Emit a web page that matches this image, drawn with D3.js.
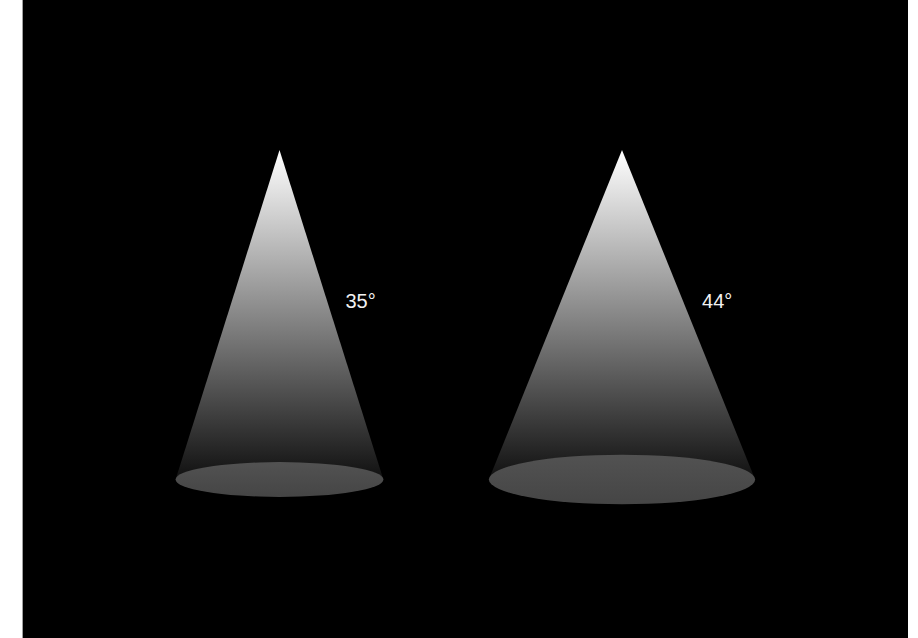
<!DOCTYPE html>
<html>
<head>
<meta charset="utf-8">
<script src="https://cdn.jsdelivr.net/npm/d3@7"></script>
<style>
  html, body { margin: 0; padding: 0; background: #ffffff; }
  svg { display: block; }
</style>
</head>
<body>
<svg id="chart" width="918" height="638"></svg>
<script>
// ---- data ----
const categories = ["cone35", "cone44"];
const beamAngles = [35, 44];          // full beam angle in degrees
const angleLabels = ["35°", "44°"];

// ---- layout ----
const W = 918, H = 638;
const svg = d3.select("#chart");

svg.append("rect")
  .attr("x", 22).attr("y", 0)
  .attr("width", 886).attr("height", H)
  .attr("fill", "#000000");
svg.append("line")
  .attr("x1", 22.5).attr("x2", 22.5).attr("y1", 0).attr("y2", H)
  .attr("stroke", "#a0a0a0").attr("stroke-width", 1);

// x position of each cone
const x = d3.scalePoint().domain(categories).range([279.5, 622]);
// vertical: 0 = base plane, 1 = apex
const y = d3.scaleLinear().domain([0, 1]).range([479.5, 150]);
const coneHeight = y(0) - y(1);

const defs = svg.append("defs");
const grad = defs.append("linearGradient")
  .attr("id", "beam")
  .attr("gradientUnits", "userSpaceOnUse")
  .attr("x1", 0).attr("x2", 0)
  .attr("y1", y(1)).attr("y2", y(0));
grad.append("stop").attr("offset", "0%").attr("stop-color", "#ffffff");
grad.append("stop").attr("offset", "100%").attr("stop-color", "#101010");

const eg = defs.append("linearGradient")
  .attr("id", "spot")
  .attr("x1", 0).attr("x2", 0).attr("y1", 0).attr("y2", 1);
eg.append("stop").attr("offset", "0%").attr("stop-color", "#525252");
eg.append("stop").attr("offset", "100%").attr("stop-color", "#454545");

const data = categories.map((c, i) => ({
  key: c,
  angle: beamAngles[i],
  label: angleLabels[i],
  half: coneHeight * Math.tan(beamAngles[i] / 2 * Math.PI / 180)
}));

const g = svg.selectAll("g.cone").data(data).enter().append("g").attr("class", "cone");

g.append("path")
  .attr("d", d => {
    const cx = x(d.key);
    return d3.line()([[cx, y(1)], [cx + d.half, y(0)], [cx - d.half, y(0)]]) + "Z";
  })
  .attr("fill", "url(#beam)");

g.append("ellipse")
  .attr("cx", d => x(d.key))
  .attr("cy", y(0))
  .attr("rx", d => d.half)
  .attr("ry", d => d.half * (0.1 + d.half * 0.00065))
  .attr("fill", "url(#spot)");

const labelLevel = 0.519; // fraction of height where label baseline sits
g.append("text")
  .attr("x", d => x(d.key) + d.half * (1 - labelLevel) + 16)
  .attr("y", y(labelLevel))
  .attr("fill", "#f2f2f2")
  .attr("font-family", "Liberation Sans, Arial, sans-serif")
  .attr("font-size", 20)
  .text(d => d.label);
</script>
</body>
</html>
